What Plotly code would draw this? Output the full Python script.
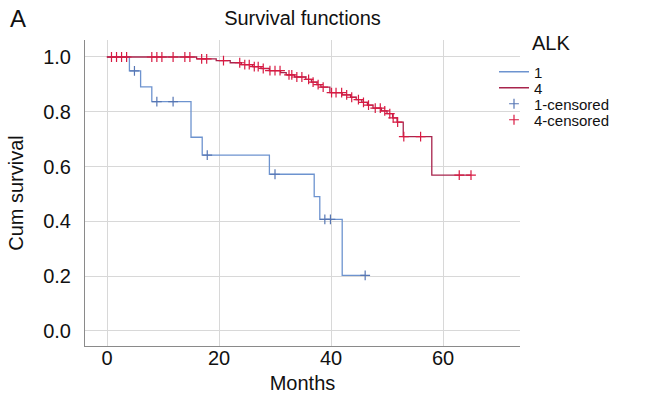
import numpy as np
import plotly.graph_objects as go

# ---- data ----
blue_event_t = [4, 6, 8, 15, 17, 29, 37, 38, 42]
blue_event_s = [0.949, 0.891, 0.837, 0.707, 0.642, 0.572, 0.490, 0.407, 0.203]
blue_censor_t = [4.9, 8.9, 11.8, 17.9, 30.0, 38.9, 39.9, 46.1]

red_event_t = [16.0, 19.5, 22.0, 24.0, 26.0, 27.5, 29.0, 31.0, 32.0, 33.5, 35.5,
               36.5, 37.5, 38.2, 39.8, 42.0, 43.5, 44.5, 45.5, 46.5, 47.5, 49.0,
               50.0, 51.0, 51.8, 52.9, 58.0]
red_event_s = [0.993, 0.987, 0.979, 0.972, 0.965, 0.958, 0.950, 0.943, 0.935, 0.927,
               0.918, 0.908, 0.899, 0.890, 0.870, 0.862, 0.853, 0.844, 0.834, 0.824,
               0.813, 0.803, 0.793, 0.778, 0.762, 0.709, 0.569]
red_censor_t = [0.8, 1.7, 2.6, 3.5, 8.0, 8.9, 9.8, 11.8, 13.9, 14.8, 16.9, 17.8,
                20.8, 23.7, 24.6, 25.4, 26.3, 27.0, 27.9, 29.1, 30.0, 30.9, 32.5,
                33.0, 33.9, 34.8, 36.0, 36.8, 37.7, 38.6, 40.1, 40.9, 41.9, 42.8,
                43.7, 44.9, 45.8, 46.7, 47.9, 48.8, 49.6, 50.5, 51.1, 51.9, 53.0,
                56.0, 62.9, 65.0]

series_names = ["1", "4", "1-censored", "4-censored"]
legend_title = "ALK"
x_ticks = [0, 20, 40, 60]
y_ticks = [0.0, 0.2, 0.4, 0.6, 0.8, 1.0]

BLUE_LINE = "#6d93cf"
BLUE_MARK = "#5676b4"
RED_LINE = "#a8244c"
RED_MARK = "#d81a42"

W, H = 646, 408
L, R, T, B = 85, 126, 40, 62
PW, PH = W - L - R, H - T - B


def px_to_paper_x(px):
    return (px - L) / PW


def px_to_paper_y(py):
    return (H - B - py) / PH


def step_curve(ev_t, ev_s, cens_t):
    xs = [0] + list(ev_t)
    ys = [1.0] + list(ev_s)
    end = max(cens_t[-1], ev_t[-1])
    xs.append(end)
    ys.append(ys[-1])
    return xs, ys


def surv_at(ev_t, ev_s, t):
    idx = np.searchsorted(np.array(ev_t), np.array(t), side="right")
    levels = np.concatenate([[1.0], np.array(ev_s)])
    return levels[idx]


bx, by = step_curve(blue_event_t, blue_event_s, blue_censor_t)
rx, ry = step_curve(red_event_t, red_event_s, red_censor_t)

fig = go.Figure()
fig.add_trace(go.Scatter(x=bx, y=by, mode="lines", line_shape="hv", name=series_names[0],
                         line=dict(color=BLUE_LINE, width=1.3), legend="legend"))
fig.add_trace(go.Scatter(x=rx, y=ry, mode="lines", line_shape="hv", name=series_names[1],
                         line=dict(color=RED_LINE, width=1.3), legend="legend2"))
fig.add_trace(go.Scatter(x=blue_censor_t, y=surv_at(blue_event_t, blue_event_s, blue_censor_t),
                         mode="markers", name=series_names[2], legend="legend3",
                         marker=dict(symbol="cross-thin", size=7,
                                     line=dict(color=BLUE_MARK, width=1.2))))
fig.add_trace(go.Scatter(x=red_censor_t, y=surv_at(red_event_t, red_event_s, red_censor_t),
                         mode="markers", name=series_names[3], legend="legend4",
                         marker=dict(symbol="cross-thin", size=7,
                                     line=dict(color=RED_MARK, width=1.2))))

FONT = "Liberation Sans, Arial, sans-serif"
LEG_X = px_to_paper_x(494)
leg_common = dict(x=LEG_X, xanchor="left", yanchor="middle", font=dict(size=15),
                  bgcolor="rgba(0,0,0,0)", itemwidth=30, borderwidth=0)

fig.update_layout(
    width=W, height=H,
    margin=dict(l=L, r=R, t=T, b=B),
    paper_bgcolor="white", plot_bgcolor="white",
    font=dict(family=FONT, size=17, color="#111111"),
    title=dict(text="Survival functions", x=(L + PW / 2) / W, xanchor="center",
               y=1 - 18 / H, yanchor="middle", font=dict(size=20)),
    showlegend=True,
    legend=dict(y=px_to_paper_y(72), **leg_common),
    legend2=dict(y=px_to_paper_y(88), **leg_common),
    legend3=dict(y=px_to_paper_y(104), **leg_common),
    legend4=dict(y=px_to_paper_y(120), **leg_common),
    xaxis=dict(range=[-3.93, 73.75], tickvals=x_ticks, ticktext=[str(v) for v in x_ticks],
               showgrid=True, gridcolor="#d8d8d8", gridwidth=1, zeroline=False,
               showline=True, linecolor="#8a8a8a", linewidth=1, ticks="",
               tickfont=dict(size=20), ticklabelstandoff=-6,
               title=dict(text="Months", font=dict(size=20), standoff=7)),
    yaxis=dict(range=[-0.055, 1.062], tickvals=y_ticks, ticktext=[f"{v:.1f}" for v in y_ticks],
               showgrid=True, gridcolor="#d8d8d8", gridwidth=1, zeroline=False,
               showline=True, linecolor="#8a8a8a", linewidth=1, ticks="",
               tickfont=dict(size=20), ticklabelstandoff=9,
               title=dict(text="Cum survival", font=dict(size=20), standoff=14)),
    annotations=[
        dict(text="A", x=px_to_paper_x(18), y=px_to_paper_y(18),
             xref="paper", yref="paper", xanchor="center", yanchor="middle",
             showarrow=False, font=dict(size=24, family=FONT)),
        dict(text=legend_title, x=px_to_paper_x(530), y=px_to_paper_y(43),
             xref="paper", yref="paper", xanchor="left", yanchor="middle",
             showarrow=False, font=dict(size=20, family=FONT)),
    ],
)

fig.write_html("out.html", config={"displayModeBar": False},
               post_script="document.body.style.margin='0';")
